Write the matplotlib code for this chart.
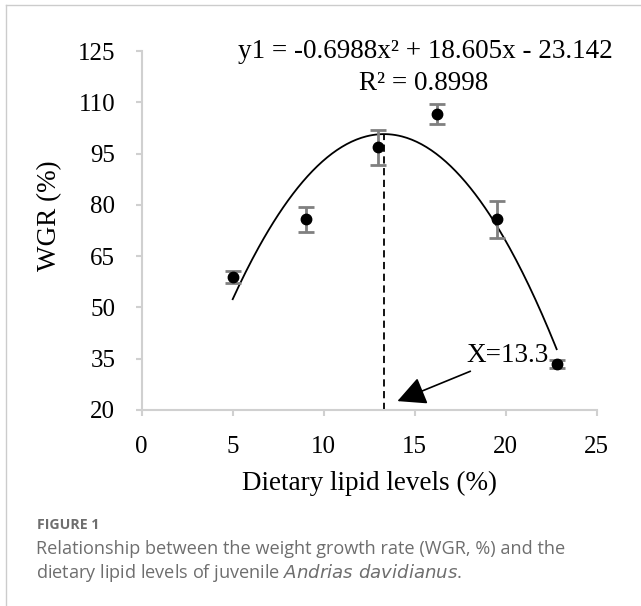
import numpy as np
import matplotlib.pyplot as plt

# measured points (mean +/- sd)
lipid = [5, 9, 13, 16.2, 19.5, 22.8]
wgr = [59.0, 75.8, 96.8, 106.5, 75.8, 33.4]
wgr_err = [1.8, 3.6, 5.1, 2.9, 5.4, 1.1]

# quadratic trend line given on the chart
coef = [-0.6988, 18.605, -23.142]
r2 = 0.8998
x_opt = 13.3

xticks = [0, 5, 10, 15, 20, 25]
yticks = [20, 35, 50, 65, 80, 95, 110, 125]

W, H = 641, 606
fig = plt.figure(figsize=(W / 100, H / 100), dpi=100)
ax = fig.add_axes([141.7 / W, 1 - 410 / H, 455 / W, 359 / H])

serif = 'Liberation Serif'
axis_grey = '#d0d0d0'
big = 19.5

# trend line
xs = np.linspace(lipid[0], lipid[-1], 200)
ax.plot(xs, np.polyval(coef, xs), color='black', linewidth=1.3, zorder=2)

# optimum marker
y_top = np.polyval(coef, x_opt)
ax.plot([x_opt, x_opt], [yticks[0], y_top], color='black', linestyle=(0, (4, 2.5)),
        linewidth=1.3, zorder=2)

ax.errorbar(lipid, wgr, yerr=wgr_err, fmt='o', color='black', markersize=7.5,
            ecolor='#808080', elinewidth=2, capsize=5.5, capthick=2, zorder=3)

ax.annotate('X=13.3', xy=(14.05, 22.6), xytext=(17.85, 35.8),
            fontsize=big, family=serif, va='center', ha='left',
            arrowprops=dict(arrowstyle='-|>,head_length=0.9,head_width=0.45',
                            color='black', linewidth=1.2, shrinkA=0, shrinkB=0))

fig.text(425 / W, 1 - 52 / H, 'y1 = -0.6988x\u00b2 + 18.605x - 23.142',
         ha='center', va='center', fontsize=big, family=serif)
fig.text(424 / W, 1 - 83 / H, 'R\u00b2 = %.4f' % r2,
         ha='center', va='center', fontsize=big, family=serif)

ax.set_xlim(0, 25)
ax.set_ylim(20, 125)
ax.set_xticks(xticks)
ax.set_yticks(yticks)
ax.tick_params(axis='both', direction='out', length=4, width=1.5, color=axis_grey,
               labelsize=18, pad=15)
for lab in ax.get_xticklabels() + ax.get_yticklabels():
    lab.set_family(serif)
for s in ['top', 'right']:
    ax.spines[s].set_visible(False)
for s in ['left', 'bottom']:
    ax.spines[s].set_color(axis_grey)
    ax.spines[s].set_linewidth(1.5)

fig.text(50 / W, 1 - 216 / H, 'WGR (%)', rotation=90, ha='center', va='center',
         fontsize=big, family=serif)
fig.text(370 / W, 1 - 483 / H, 'Dietary lipid levels (%)', ha='center', va='center',
         fontsize=big, family=serif)

# caption
cap_grey = '#6e6e6e'
fig.text(37 / W, 1 - 525 / H, 'FIGURE 1', fontsize=10.2, fontweight='bold',
         color=cap_grey, family='Open Sans', va='center')
fig.text(36 / W, 1 - 549 / H,
         'Relationship between the weight growth rate (WGR, %) and the',
         fontsize=13.1, color=cap_grey, family='Open Sans', va='center')
fig.text(36 / W, 1 - 573 / H,
         'dietary lipid levels of juvenile $\\it{Andrias\\ davidianus}$.',
         fontsize=13.1, color=cap_grey, family='Open Sans', va='center')

# page frame
fig.add_artist(plt.Line2D([6 / W, 6 / W], [0, 1 - 5 / H], color='#cccccc', linewidth=1))
fig.add_artist(plt.Line2D([6 / W, 1], [1 - 5 / H, 1 - 5 / H], color='#cccccc', linewidth=1))

fig.savefig('out.png', dpi=100)
